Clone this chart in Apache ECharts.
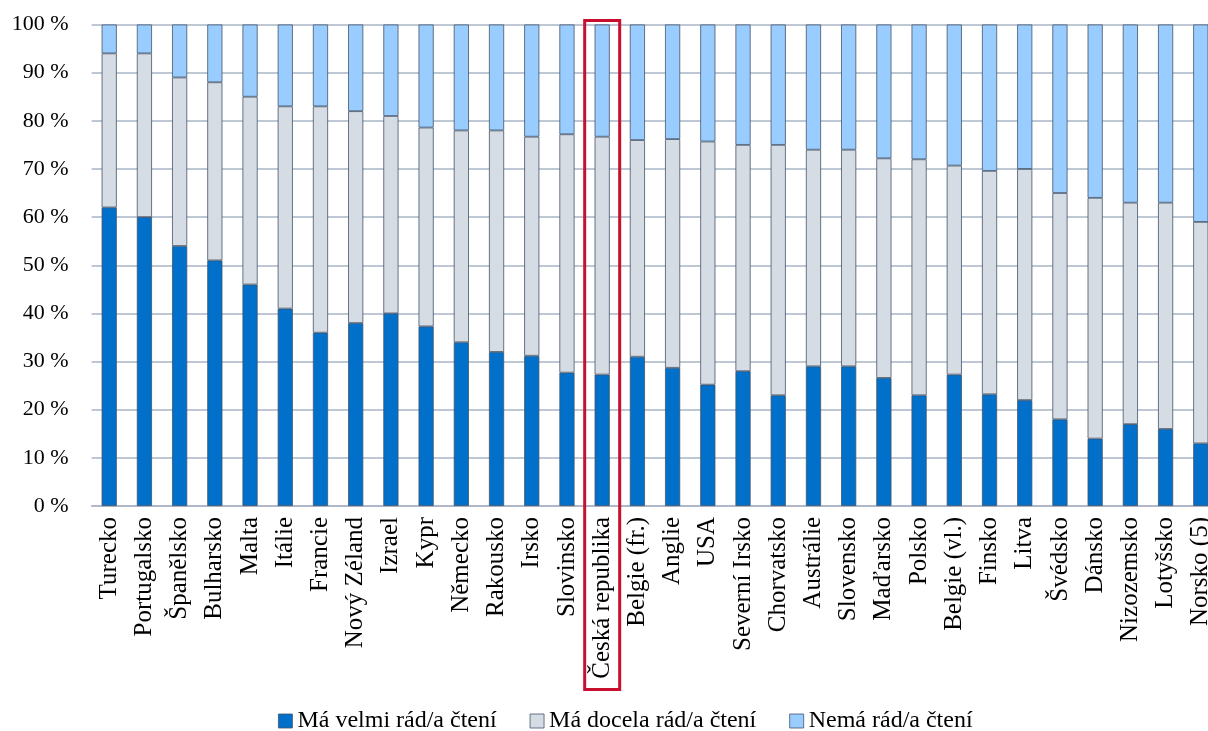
<!DOCTYPE html>
<html lang="cs">
<head>
<meta charset="utf-8">
<title>Vztah ke čtení</title>
<script src="https://cdn.jsdelivr.net/npm/echarts@6/dist/echarts.min.js"></script>
<style>
  html, body { margin: 0; padding: 0; background: #ffffff; }
  #chart { width: 1208px; height: 731px; }
</style>
</head>
<body>
<div id="chart"></div>
<script>
// Země seřazené podle podílu žáků, kteří mají čtení velmi rádi
const countries = [
  'Turecko', 'Portugalsko', 'Španělsko', 'Bulharsko', 'Malta', 'Itálie', 'Francie',
  'Nový Zéland', 'Izrael', 'Kypr', 'Německo', 'Rakousko', 'Irsko', 'Slovinsko',
  'Česká republika', 'Belgie (fr.)', 'Anglie', 'USA', 'Severní Irsko', 'Chorvatsko',
  'Austrálie', 'Slovensko', 'Maďarsko', 'Polsko', 'Belgie (vl.)', 'Finsko', 'Litva',
  'Švédsko', 'Dánsko', 'Nizozemsko', 'Lotyšsko', 'Norsko (5)'
];

// Podíly v procentech
const velmiRad = [62, 60, 54, 51, 46, 41, 36, 38, 40, 37.3, 34, 32, 31.2, 27.7, 27.3, 31,
  28.7, 25.2, 28, 23, 29, 29, 26.6, 23, 27.3, 23.2, 22, 18, 14, 17, 16, 13];
const docelaRad = [32, 34, 35, 37, 39, 42, 47, 44, 41, 41.3, 44, 46, 45.5, 49.5, 49.4, 45,
  47.5, 50.5, 47, 52, 45, 45, 45.6, 49, 43.4, 46.4, 48, 47, 50, 46, 47, 46];
const nemaRad = [6, 6, 11, 12, 15, 17, 17, 18, 19, 21.4, 22, 22, 23.3, 22.8, 23.3, 24,
  23.8, 24.3, 25, 25, 26, 26, 27.8, 28, 29.3, 30.4, 30, 35, 36, 37, 37, 41];

const seriesNames = ['Má velmi rád/a čtení', 'Má docela rád/a čtení', 'Nemá rád/a čtení'];
const yTicks = [0, 10, 20, 30, 40, 50, 60, 70, 80, 90, 100];

// Zvýrazněná země (orámovaná červeně)
const highlighted = 'Česká republika';

const FONT = '"Liberation Serif", "Times New Roman", serif';
const GRID_COLOR = '#A9B4C6';
const BAR_BORDER = '#44546A';

const chart = echarts.init(document.getElementById('chart'), null, { renderer: 'canvas' });

function barSeries(name, data, color) {
  return {
    name: name,
    type: 'bar',
    stack: 'total',
    data: data,
    barWidth: '43%',
    itemStyle: { color: color, borderColor: BAR_BORDER, borderWidth: 0.8 },
    emphasis: { disabled: true },
    animation: false
  };
}

chart.setOption({
  animation: false,
  textStyle: { fontFamily: FONT, color: '#000' },
  grid: {
    left: 91.6, top: 24.5, width: 1126.8, height: 481.5,
    containLabel: false,
    outerBoundsMode: 'none'
  },
  legend: {
    top: 709,
    left: 278,
    padding: 0,
    icon: 'rect',
    itemWidth: 14,
    itemHeight: 14,
    itemGap: 33,
    itemStyle: { borderColor: BAR_BORDER, borderWidth: 0.8 },
    textStyle: { fontFamily: FONT, fontSize: 24, color: '#000' },
    data: seriesNames
  },
  xAxis: {
    type: 'category',
    data: countries,
    axisLine: { show: true, lineStyle: { color: GRID_COLOR, width: 1.5 } },
    axisTick: { show: false },
    axisLabel: {
      rotate: 90,
      interval: 0,
      margin: 11,
      fontFamily: FONT,
      fontSize: 25,
      color: '#000'
    }
  },
  yAxis: {
    type: 'value',
    min: yTicks[0],
    max: yTicks[yTicks.length - 1],
    interval: yTicks[1] - yTicks[0],
    axisLine: { show: false },
    axisTick: { show: false },
    splitLine: { show: true, lineStyle: { color: GRID_COLOR, width: 1.5 } },
    axisLabel: {
      formatter: '{value} %',
      margin: 23,
      fontFamily: FONT,
      fontSize: 22,
      color: '#000'
    }
  },
  series: [
    barSeries(seriesNames[0], velmiRad, '#0070CA'),
    barSeries(seriesNames[1], docelaRad, '#D6DCE4'),
    barSeries(seriesNames[2], nemaRad, '#99CCFF')
  ]
});

// Červený rámeček kolem sloupce a popisku zvýrazněné země, umístěný podle osy
const cx = chart.convertToPixel({ xAxisIndex: 0 }, highlighted);
const yTop = chart.convertToPixel({ yAxisIndex: 0 }, 100);
chart.setOption({
  graphic: [{
    type: 'rect',
    shape: { x: cx - 17.5, y: yTop - 4, width: 35, height: 669 },
    style: { fill: 'none', stroke: '#C8102E', lineWidth: 3 },
    silent: true,
    z: 100
  }]
});
</script>
</body>
</html>
